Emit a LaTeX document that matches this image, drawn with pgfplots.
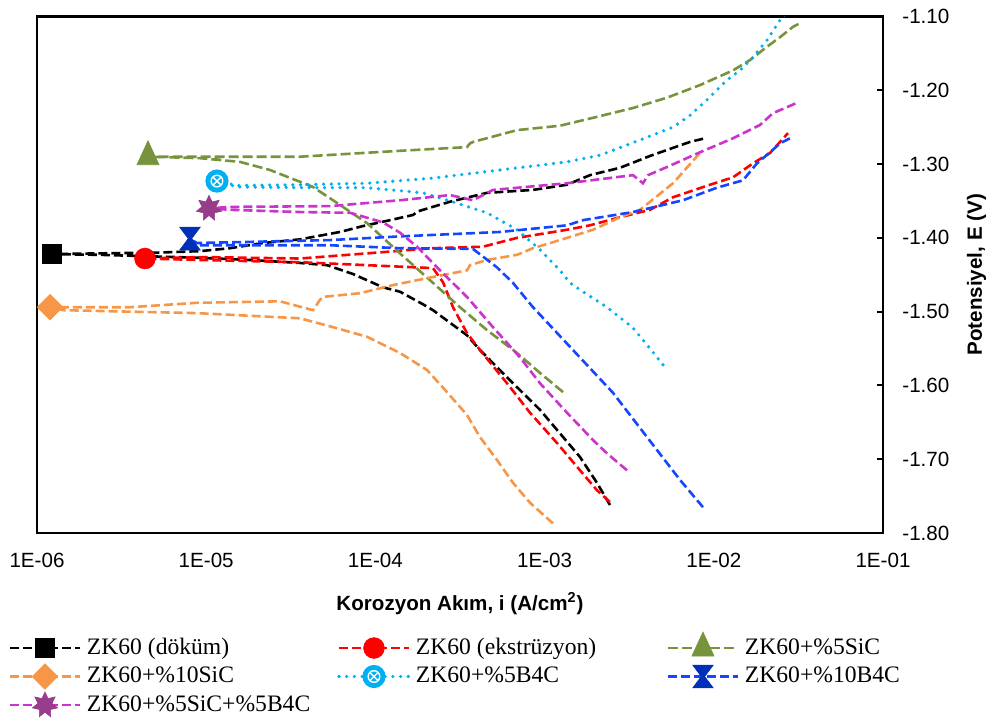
\documentclass[border=0pt]{standalone}
\usepackage{pgfplots}
\pgfplotsset{compat=1.18}
\usepackage{fontspec}
\setmainfont{Liberation Sans}
\newfontfamily\timesfont{Liberation Serif}

\definecolor{cOlive}{HTML}{77933C}
\definecolor{cOrange}{HTML}{F79646}
\definecolor{cCyan}{HTML}{00B0F0}
\definecolor{cBlue}{HTML}{1446FF}
\definecolor{cBlueM}{HTML}{0030B8}
\definecolor{cMag}{HTML}{CC33CC}
\definecolor{cPurp}{HTML}{983D8B}

\pgfdeclareplotmark{tri}{%
  \pgfpathmoveto{\pgfqpoint{0pt}{\pgfplotmarksize}}%
  \pgfpathlineto{\pgfpoint{-0.69\pgfplotmarksize}{-0.5\pgfplotmarksize}}%
  \pgfpathlineto{\pgfpoint{0.69\pgfplotmarksize}{-0.5\pgfplotmarksize}}%
  \pgfpathclose\pgfusepathqfillstroke}
\pgfdeclareplotmark{dia}{%
  \pgfpathmoveto{\pgfqpoint{0pt}{\pgfplotmarksize}}%
  \pgfpathlineto{\pgfqpoint{\pgfplotmarksize}{0pt}}%
  \pgfpathlineto{\pgfpoint{0pt}{-\pgfplotmarksize}}%
  \pgfpathlineto{\pgfpoint{-\pgfplotmarksize}{0pt}}%
  \pgfpathclose\pgfusepathqfillstroke}
\pgfdeclareplotmark{hg}{%
  \pgfpathmoveto{\pgfpoint{-0.9\pgfplotmarksize}{\pgfplotmarksize}}%
  \pgfpathlineto{\pgfpoint{0.9\pgfplotmarksize}{\pgfplotmarksize}}%
  \pgfpathlineto{\pgfpoint{0.15\pgfplotmarksize}{0pt}}%
  \pgfpathlineto{\pgfpoint{0.9\pgfplotmarksize}{-\pgfplotmarksize}}%
  \pgfpathlineto{\pgfpoint{-0.9\pgfplotmarksize}{-\pgfplotmarksize}}%
  \pgfpathlineto{\pgfpoint{-0.15\pgfplotmarksize}{0pt}}%
  \pgfpathclose\pgfusepathqfillstroke}
\pgfdeclareplotmark{st7}{%
  \pgfpathmoveto{\pgfpointpolar{90}{\pgfplotmarksize}}%
  \pgfpathlineto{\pgfpointpolar{115.71}{0.55\pgfplotmarksize}}%
  \pgfpathlineto{\pgfpointpolar{141.43}{\pgfplotmarksize}}%
  \pgfpathlineto{\pgfpointpolar{167.14}{0.55\pgfplotmarksize}}%
  \pgfpathlineto{\pgfpointpolar{192.86}{\pgfplotmarksize}}%
  \pgfpathlineto{\pgfpointpolar{218.57}{0.55\pgfplotmarksize}}%
  \pgfpathlineto{\pgfpointpolar{244.29}{\pgfplotmarksize}}%
  \pgfpathlineto{\pgfpointpolar{270}{0.55\pgfplotmarksize}}%
  \pgfpathlineto{\pgfpointpolar{295.71}{\pgfplotmarksize}}%
  \pgfpathlineto{\pgfpointpolar{321.43}{0.55\pgfplotmarksize}}%
  \pgfpathlineto{\pgfpointpolar{347.14}{\pgfplotmarksize}}%
  \pgfpathlineto{\pgfpointpolar{12.86}{0.55\pgfplotmarksize}}%
  \pgfpathlineto{\pgfpointpolar{38.57}{\pgfplotmarksize}}%
  \pgfpathlineto{\pgfpointpolar{64.29}{0.55\pgfplotmarksize}}%
  \pgfpathclose\pgfusepathqfillstroke}
\pgfdeclareplotmark{circx}{%
  \pgfpathcircle{\pgfpointorigin}{\pgfplotmarksize}%
  \pgfusepathqfill
  \pgfsetstrokecolor{white}%
  \pgfsetlinewidth{0.7pt}%
  \pgfpathcircle{\pgfpointorigin}{0.5\pgfplotmarksize}%
  \pgfpathmoveto{\pgfpointpolar{45}{0.5\pgfplotmarksize}}%
  \pgfpathlineto{\pgfpointpolar{225}{0.5\pgfplotmarksize}}%
  \pgfpathmoveto{\pgfpointpolar{135}{0.5\pgfplotmarksize}}%
  \pgfpathlineto{\pgfpointpolar{315}{0.5\pgfplotmarksize}}%
  \pgfusepathqstroke}

\pgfplotsset{
  sBlack/.style={black, line width=1.3pt, dash pattern=on 4.5pt off 2pt},
  sRed/.style={red, line width=1.3pt, dash pattern=on 4.5pt off 2pt},
  sOlive/.style={cOlive, line width=1.3pt, dash pattern=on 5pt off 2pt},
  sOrange/.style={cOrange, line width=1.3pt, dash pattern=on 4.5pt off 2pt},
  sCyan/.style={cCyan, line width=1.8pt, line cap=round, dash pattern=on 0pt off 3.85pt},
  sBlue/.style={cBlue, line width=1.3pt, dash pattern=on 4.5pt off 2pt},
  sMag/.style={cMag, line width=1.3pt, dash pattern=on 4.5pt off 2pt},
}

\begin{document}
\begin{tikzpicture}
\useasboundingbox (-18.5pt,-93.5pt) rectangle (479pt,266.5pt);
\begin{axis}[
  at={(0pt,0pt)}, anchor=south west,
  scale only axis, width=423pt, height=258.25pt,
  xmode=log, xmin=1e-6, xmax=1e-1, ymin=-1.8, ymax=-1.1,
  axis line style={line width=1.1pt},
  xtick={1e-6,1e-5,1e-4,1e-3,1e-2,1e-1},
  xticklabels={1E-06,1E-05,1E-04,1E-03,1E-02,1E-01},
  xtick style={draw=none}, xminorticks=false,
  ytick={-1.8,-1.7,-1.6,-1.5,-1.4,-1.3,-1.2,-1.1},
  yticklabels={-1.80,-1.70,-1.60,-1.50,-1.40,-1.30,-1.20,-1.10},
  ytick pos=right, yticklabel pos=right,
  tick align=inside, major tick length=3pt,
  ytick style={line width=1pt, black},
  tick label style={font=\fontsize{10.3}{12}\selectfont},
  xticklabel style={anchor=north, inner sep=0pt, yshift=-10pt},
  yticklabel style={anchor=west, inner sep=0pt, xshift=9.5pt},
  xlabel={Korozyon Akım, i (A/cm\textsuperscript{2})},
  xlabel style={font=\bfseries\fontsize{10.3}{12}\selectfont, at={(axis description cs:0.5,-0.14908)}, anchor=base},
  ylabel={Potensiyel, E (V)},
  ylabel style={font=\bfseries\fontsize{10.3}{12}\selectfont, at={(axis description cs:1.117,0.5)}, anchor=base, rotate=0},
  legend columns=3,
  legend cell align=left,
  legend style={at={(axis description cs:-0.031915,-0.19506)}, anchor=north west,
    draw=none, fill=none, inner sep=0pt, outer sep=0pt, column sep=0pt, row sep=0pt,
    font=\timesfont\fontsize{11.8}{13}\selectfont, nodes={inner sep=0pt},
    /tikz/every odd column/.style={column sep=3.5pt},
    /tikz/every even column/.style={column sep=0pt}},
  legend image code/.code={%
    \path[draw=none, fill=none] (0pt,-7.125pt) rectangle (35pt,7.125pt);
    \draw[overlay, mark repeat=2, mark phase=2, #1] plot coordinates {(0pt,0pt) (17.5pt,0pt) (35pt,0pt)};},
]
% ---- curves (cathodic end -> Ecorr -> anodic end)
\addplot[sBlack, forget plot] coordinates {
(2.435e-3,-1.762) (2.04e-3,-1.732) (1.619e-3,-1.697) (1.233e-3,-1.665) (9.39e-4,-1.633)
(6.505e-4,-1.597) (4.152e-4,-1.552) (3.478e-4,-1.532) (2.76e-4,-1.515) (2.19e-4,-1.498)
(1.911e-4,-1.490) (1.398e-4,-1.473) (1.109e-4,-1.467) (7.374e-5,-1.449) (5.175e-5,-1.437)
(3.585e-5,-1.434) (1.815e-5,-1.430) (9.19e-6,-1.427) (4.65e-6,-1.425) (2.36e-6,-1.423) (1.23e-6,-1.422)
(2.36e-6,-1.421) (5.12e-6,-1.420) (9.19e-6,-1.418) (1.383e-5,-1.414) (2.167e-5,-1.407)
(3.585e-5,-1.402) (6.177e-5,-1.392) (8.446e-5,-1.384) (1.22e-4,-1.376) (1.668e-4,-1.369)
(1.786e-4,-1.364) (2.76e-4,-1.351) (4.566e-4,-1.339) (8.54e-4,-1.335) (1.357e-3,-1.328)
(1.855e-3,-1.315) (2.79e-3,-1.305) (4.197e-3,-1.289) (5.74e-3,-1.278) (7.233e-3,-1.270) (8.87e-3,-1.265)};
\addplot[sRed, forget plot] coordinates {
(2.435e-3,-1.758) (2.04e-3,-1.742) (1.619e-3,-1.715) (1.184e-3,-1.678) (8.2e-4,-1.637)
(5.995e-4,-1.597) (4.152e-4,-1.552) (3.478e-4,-1.529) (2.875e-4,-1.494) (2.509e-4,-1.460)
(2.19e-4,-1.441) (8.92e-5,-1.437) (3.585e-5,-1.433) (9.19e-6,-1.430) (4.347e-6,-1.428)
(9.19e-6,-1.426) (3.585e-5,-1.428) (8.92e-5,-1.421) (2.19e-4,-1.414) (4.324e-4,-1.412)
(6.87e-4,-1.400) (1.357e-3,-1.389) (1.855e-3,-1.383) (2.79e-3,-1.372) (4.197e-3,-1.362)
(5.74e-3,-1.345) (9.495e-3,-1.328) (1.299e-2,-1.318) (1.705e-2,-1.299) (2.149e-2,-1.285)
(2.462e-2,-1.270) (2.745e-2,-1.258)};
\addplot[sOlive, forget plot] coordinates {
(1.285e-3,-1.609) (9.39e-4,-1.583) (6.87e-4,-1.556) (4.566e-4,-1.525) (3.162e-4,-1.494)
(2.19e-4,-1.461) (1.398e-4,-1.421) (8.92e-5,-1.380) (5.615e-5,-1.349) (4.277e-5,-1.331)
(3.585e-5,-1.324) (2.383e-5,-1.308) (1.584e-5,-1.297) (9.19e-6,-1.292) (4.53e-6,-1.290)
(9.19e-6,-1.290) (3.585e-5,-1.290) (1.398e-4,-1.282) (3.478e-4,-1.277) (3.624e-4,-1.272)
(3.774e-4,-1.270) (6.87e-4,-1.254) (1.233e-3,-1.248) (2.125e-3,-1.235) (3.331e-3,-1.224)
(5.289e-3,-1.210) (8.286e-3,-1.193) (1.299e-2,-1.173) (1.637e-2,-1.159) (2.063e-2,-1.141)
(2.462e-2,-1.128) (2.939e-2,-1.114) (3.231e-2,-1.109)};
\addplot[sOrange, forget plot] coordinates {
(1.121e-3,-1.787) (8.2e-4,-1.759) (6.505e-4,-1.732) (5.232e-4,-1.701) (4.152e-4,-1.670)
(3.478e-4,-1.640) (2.578e-4,-1.606) (2.018e-4,-1.579) (1.398e-4,-1.556) (8.92e-5,-1.534)
(5.615e-5,-1.521) (3.585e-5,-1.509) (8.82e-6,-1.502) (1.424e-6,-1.498) (1.194e-6,-1.494)
(3.545e-6,-1.494) (8.82e-6,-1.488) (2.731e-5,-1.486) (4.277e-5,-1.498) (4.705e-5,-1.484)
(4.9e-5,-1.480) (8.11e-5,-1.475) (1.271e-4,-1.464) (2.19e-4,-1.453) (3.478e-4,-1.444)
(3.624e-4,-1.437) (4.566e-4,-1.430) (6.87e-4,-1.423) (8.54e-4,-1.414) (1.233e-3,-1.403)
(1.932e-3,-1.389) (2.79e-3,-1.372) (3.663e-3,-1.362) (5.74e-3,-1.326) (8.286e-3,-1.285)};
\addplot[sCyan, forget plot] coordinates {
(5.01e-3,-1.572) (4.03e-3,-1.545) (3.331e-3,-1.522) (2.337e-3,-1.494) (1.687e-3,-1.473)
(1.413e-3,-1.461) (1.233e-3,-1.444) (9.39e-4,-1.416) (6.87e-4,-1.389) (4.566e-4,-1.366)
(3.036e-4,-1.353) (1.911e-4,-1.339) (8.92e-5,-1.332) (3.585e-5,-1.332) (1.521e-5,-1.331) (1.158e-5,-1.323)
(1.521e-5,-1.329) (3.585e-5,-1.328) (8.92e-5,-1.326) (2.19e-4,-1.319) (5.45e-4,-1.308)
(1.357e-3,-1.297) (2.125e-3,-1.288) (3.331e-3,-1.271) (5.74e-3,-1.250) (7.233e-3,-1.234)
(9.118e-3,-1.213) (1.197e-2,-1.186) (1.428e-2,-1.173) (1.705e-2,-1.155)
(2.063e-2,-1.132) (2.462e-2,-1.105) (2.636e-2,-1.097)};
\addplot[sBlue, forget plot] coordinates {
(8.63e-3,-1.765) (6.313e-3,-1.728) (4.03e-3,-1.670) (2.537e-3,-1.610) (1.472e-3,-1.552)
(8.54e-4,-1.494) (6.505e-4,-1.461) (5.232e-4,-1.440) (3.774e-4,-1.415) (1.398e-4,-1.414)
(5.39e-5,-1.410) (8.82e-6,-1.410) (8.02e-6,-1.401)
(8.82e-6,-1.407) (5.39e-5,-1.403) (1.398e-4,-1.398) (5.45e-4,-1.392) (1.357e-3,-1.383)
(1.687e-3,-1.376) (3.331e-3,-1.365) (6.577e-3,-1.349) (1.044e-2,-1.332) (1.488e-2,-1.322)
(1.8e-2,-1.299) (2.149e-2,-1.284) (2.462e-2,-1.272) (2.82e-2,-1.265)};
\addplot[sMag, forget plot] coordinates {
(3.069e-3,-1.715) (2.337e-3,-1.692) (1.932e-3,-1.674) (1.357e-3,-1.637) (9.39e-4,-1.597)
(7.155e-4,-1.562) (4.955e-4,-1.521) (3.478e-4,-1.480) (2.409e-4,-1.444) (1.762e-4,-1.412)
(1.398e-4,-1.393) (1.109e-4,-1.379) (7.077e-5,-1.366) (3.585e-5,-1.365) (1.383e-5,-1.362) (1.039e-5,-1.360)
(1.383e-5,-1.358) (5.39e-5,-1.357) (1.398e-4,-1.349) (2.76e-4,-1.342) (3.774e-4,-1.349)
(4.955e-4,-1.335) (1.357e-3,-1.326) (3.331e-3,-1.315) (3.815e-3,-1.326) (4.085e-3,-1.315)
(5.289e-3,-1.304) (8.286e-3,-1.284) (1.299e-2,-1.265) (1.875e-2,-1.247) (2.238e-2,-1.231) (3.102e-2,-1.217)};
% ---- markers at Ecorr (with legend entries)
\addplot[sBlack, mark=square*, mark size=4.8pt, mark options={solid, fill=black, line width=0.3pt}] coordinates {(1.23e-6,-1.422)};
\addlegendentry{\makebox[126pt][l]{ZK60 (döküm)}}
\addplot[sRed, mark=*, mark size=5.2pt, mark options={solid, fill=red, line width=0.3pt}] coordinates {(4.347e-6,-1.428)};
\addlegendentry{\makebox[126pt][l]{ZK60 (ekstrüzyon)}}
\addplot[sOlive, mark=tri, mark size=8pt, mark options={solid, fill=cOlive, line width=0.3pt}] coordinates {(4.53e-6,-1.290)};
\addlegendentry{\makebox[126pt][l]{ZK60+\%5SiC}}
\addplot[sOrange, mark=dia, mark size=6.4pt, mark options={solid, fill=cOrange, line width=0.3pt}] coordinates {(1.194e-6,-1.494)};
\addlegendentry{\makebox[126pt][l]{ZK60+\%10SiC}}
\addplot[sCyan, mark=circx, mark size=5.8pt, mark options={solid, fill=cCyan}] coordinates {(1.158e-5,-1.323)};
\addlegendentry{\makebox[126pt][l]{ZK60+\%5B4C}}
\addplot[sBlue, mark=hg, mark size=5.7pt, mark options={solid, fill=cBlueM, draw=cBlueM, line width=0.3pt}] coordinates {(8.02e-6,-1.401)};
\addlegendentry{\makebox[126pt][l]{ZK60+\%10B4C}}
\addplot[sMag, mark=st7, mark size=6.5pt, mark options={solid, fill=cPurp, draw=cPurp, line width=0.3pt}] coordinates {(1.039e-5,-1.360)};
\addlegendentry{\makebox[126pt][l]{ZK60+\%5SiC+\%5B4C}}
\end{axis}
\end{tikzpicture}
\end{document}
